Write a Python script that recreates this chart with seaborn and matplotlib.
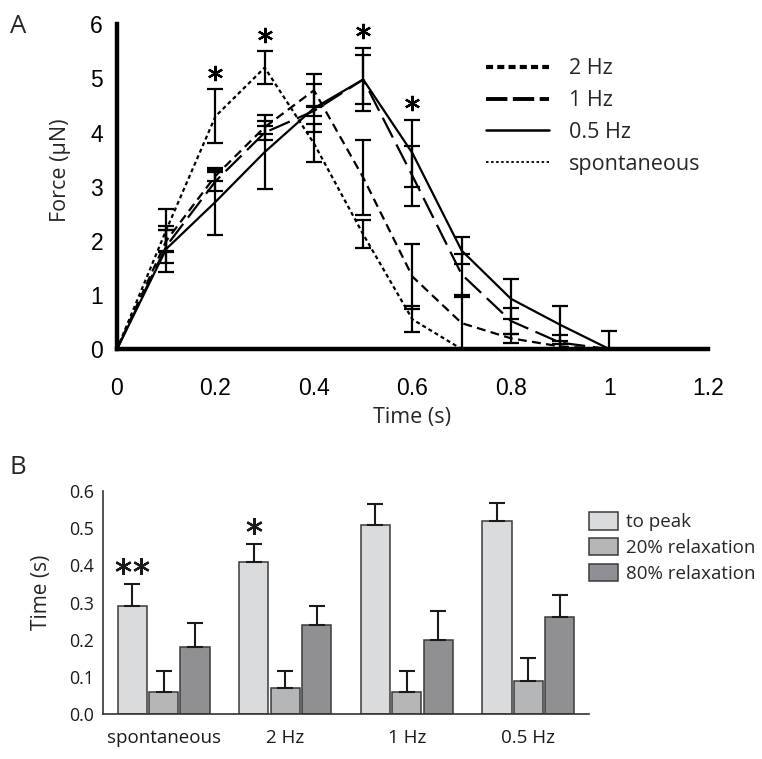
import numpy as np
import pandas as pd
import matplotlib
matplotlib.use("Agg")
import matplotlib.pyplot as plt
from matplotlib.lines import Line2D
from matplotlib.patches import Patch
import seaborn as sns

# ---------- panel A : force traces ----------
time_s = [0.0, 0.1, 0.2, 0.3, 0.4, 0.5, 0.6, 0.7, 0.8, 0.9, 1.0]
force_2hz = [0.0, 2.0, 3.2, 4.1, 4.78, 3.17, 1.34, 0.48, 0.2, 0.05, 0.0]
err_2hz = [0.0, 0.2, 0.1, 0.12, 0.31, 0.7, 0.6, 0.48, 0.08, 0.1, 0.0]
force_1hz = [0.0, 1.9, 3.1, 4.0, 4.4, 4.98, 3.2, 1.38, 0.52, 0.12, 0.0]
err_1hz = [0.0, 0.3, 0.17, 0.13, 0.1, 0.45, 0.56, 0.38, 0.24, 0.15, 0.0]
force_05hz = [0.0, 1.85, 2.72, 3.64, 4.45, 4.98, 3.62, 1.82, 0.93, 0.45, 0.0]
err_05hz = [0.0, 0.43, 0.62, 0.69, 0.44, 0.59, 0.62, 0.25, 0.37, 0.35, 0.33]
force_spont = [0.0, 2.2, 4.3, 5.2, 3.8, 2.12, 0.55, 0.0]
err_spont = [0.0, 0.38, 0.5, 0.3, 0.35, 0.26, 0.24, 0.0]
series_names = ["2 Hz", "1 Hz", "0.5 Hz", "spontaneous"]
star_times_a = [0.2, 0.3, 0.5, 0.6]

# ---------- panel B : timing bars ----------
conditions = ["spontaneous", "2 Hz", "1 Hz", "0.5 Hz"]
measures = ["to peak", "20% relaxation", "80% relaxation"]
to_peak = [0.29, 0.41, 0.51, 0.52]
to_peak_err = [0.06, 0.048, 0.056, 0.047]
relax20 = [0.06, 0.07, 0.06, 0.09]
relax20_err = [0.057, 0.045, 0.055, 0.06]
relax80 = [0.18, 0.24, 0.20, 0.26]
relax80_err = [0.065, 0.05, 0.077, 0.06]
stars_b = {"spontaneous": "**", "2 Hz": "*"}

bar_colors = ["#dadbdd", "#b5b6b8", "#8f9093"]

sns.set_theme(style="white")
plt.rcParams["font.family"] = ["Open Sans", "DejaVu Sans"]

fig = plt.figure(figsize=(7.62, 7.59), dpi=100)
ax_a = fig.add_axes([0.1535, 0.540, 0.7755, 0.428])
ax_b = fig.add_axes([0.1348, 0.0593, 0.6385, 0.2935])

# long table for seaborn
rows = []
for name, vals in zip(series_names, [force_2hz, force_1hz, force_05hz, force_spont]):
    for t, v in zip(time_s, vals):
        rows.append({"time": t, "force": v, "series": name})
df_a = pd.DataFrame(rows)

line_dashes = {"2 Hz": (4.0, 2.4), "1 Hz": (10, 3.5), "0.5 Hz": "", "spontaneous": (1.8, 1.4)}
sns.lineplot(data=df_a, x="time", y="force", style="series", dashes=line_dashes,
             color="black", lw=1.6, ax=ax_a, legend=False, estimator=None)

all_err = [err_2hz, err_1hz, err_05hz, err_spont]
all_val = [force_2hz, force_1hz, force_05hz, force_spont]
for vals, errs in zip(all_val, all_err):
    x = np.array(time_s[:len(vals)])
    y = np.array(vals)
    e = np.array(errs)
    keep = e > 0
    ax_a.errorbar(x[keep], y[keep], yerr=e[keep], fmt="none", ecolor="black",
                  elinewidth=1.6, capsize=6, capthick=1.6)

# significance stars above the highest error bar
for t in star_times_a:
    i = time_s.index(t)
    tops = [v[i] + e[i] for v, e in zip(all_val, all_err) if i < len(v)]
    ax_a.plot(t, max(tops) + 0.3, marker=(6, 2, 0), ms=11, mew=1.6,
              color="black", clip_on=False)

ax_a.set_xlim(0, 1.2)
ax_a.set_ylim(0, 6)
ax_a.set_xticks([0, 0.2, 0.4, 0.6, 0.8, 1.0, 1.2])
ax_a.set_xticklabels(["0", "0.2", "0.4", "0.6", "0.8", "1", "1.2"])
ax_a.set_yticks(range(7))
for lab in ax_a.get_xticklabels() + ax_a.get_yticklabels():
    lab.set_family("Liberation Sans")
    lab.set_fontsize(16.5)
ax_a.tick_params(axis="y", direction="in", length=7, width=1.2, pad=10, colors="black")
ax_a.tick_params(axis="x", direction="out", length=3, width=1.0, pad=17, colors="black")
sns.despine(ax=ax_a)
for side in ["left", "bottom"]:
    ax_a.spines[side].set_linewidth(3.2)
    ax_a.spines[side].set_color("black")
ax_a.set_xlabel("Time (s)", fontsize=15.5, labelpad=5)
ax_a.set_ylabel("Force (\u00b5N)", fontsize=15.5)
ax_a.yaxis.set_label_coords(-0.078, 0.55)

leg_handles = [
    Line2D([], [], color="black", lw=3.0, dashes=(1.7, 1.0)),
    Line2D([], [], color="black", lw=2.8, dashes=(5.5, 1.4)),
    Line2D([], [], color="black", lw=1.8),
    Line2D([], [], color="black", lw=1.3, dashes=(1.4, 1.4)),
]
ax_a.legend(leg_handles, series_names, loc="upper left", bbox_to_anchor=(0.625, 0.895),
            frameon=False, fontsize=15.5, handlelength=2.9, handletextpad=0.95,
            labelspacing=0.5, borderpad=0, borderaxespad=0)

# ---------- panel B ----------
df_b = pd.DataFrame({
    "condition": np.repeat(conditions, 3),
    "measure": measures * 4,
    "time": [v for trio in zip(to_peak, relax20, relax80) for v in trio],
    "err": [v for trio in zip(to_peak_err, relax20_err, relax80_err) for v in trio],
})
sns.barplot(data=df_b, x="condition", y="time", hue="measure", order=conditions,
            hue_order=measures, palette=bar_colors, width=0.775, gap=0.07,
            edgecolor="#3a3a3a", linewidth=1.1, errorbar=None, ax=ax_b, legend=False)

# upper error bars, one per bar (patches go hue by hue)
for k, m in enumerate(measures):
    for j, c in enumerate(conditions):
        p = ax_b.patches[k * len(conditions) + j]
        row = df_b[(df_b.condition == c) & (df_b.measure == m)].iloc[0]
        xc = p.get_x() + p.get_width() / 2
        ax_b.errorbar(xc, row.time, yerr=[[0], [row.err]], fmt="none", ecolor="#1a1a1a",
                      elinewidth=1.5, capsize=5.5, capthick=1.5)
        if m == "to peak" and c in stars_b:
            n = len(stars_b[c])
            top = row.time + row.err + 0.048
            offs = np.linspace(-0.074, 0.074, n) if n > 1 else [0.0]
            for o in offs:
                ax_b.plot(xc + o, top, marker=(6, 2, 0), ms=12, mew=1.6,
                          color="#1a1a1a", clip_on=False)

ax_b.set_xlim(-0.5, 3.5)
ax_b.set_ylim(0, 0.6)
ax_b.set_yticks(np.arange(0, 0.61, 0.1))
ax_b.set_yticklabels([f"{v:.1f}" for v in np.arange(0, 0.61, 0.1)])
ax_b.set_xticks(range(4))
ax_b.set_xticks([0.5, 1.5, 2.5, 3.5], minor=True)
ax_b.tick_params(axis="x", which="major", length=0, pad=11, labelsize=13.5, colors="#1a1a1a")
ax_b.tick_params(axis="x", which="minor", direction="in", length=5, width=1.0, color="#333333")
ax_b.tick_params(axis="y", direction="out", length=4, width=1.0, pad=2, labelsize=12.8,
                 colors="#1a1a1a")
sns.despine(ax=ax_b)
for side in ["left", "bottom"]:
    ax_b.spines[side].set_linewidth(1.2)
    ax_b.spines[side].set_color("#333333")
ax_b.set_xlabel("")
ax_b.set_ylabel("Time (s)", fontsize=15)
ax_b.yaxis.set_label_coords(-0.104, 0.547)

b_handles = [Patch(facecolor=c, edgecolor="#3a3a3a", linewidth=1.1) for c in bar_colors]
ax_b.legend(b_handles, measures, loc="upper left", bbox_to_anchor=(1.0, 0.905),
            frameon=False, fontsize=13.5, handlelength=1.55, handleheight=1.05,
            handletextpad=0.4, labelspacing=0.35, borderpad=0, borderaxespad=0)

# panel letters
fig.text(0.013, 0.9816, "A", fontsize=18.5, va="top", ha="left")
fig.text(0.013, 0.40, "B", fontsize=18.5, va="top", ha="left")

fig.savefig("out.png", dpi=100)
